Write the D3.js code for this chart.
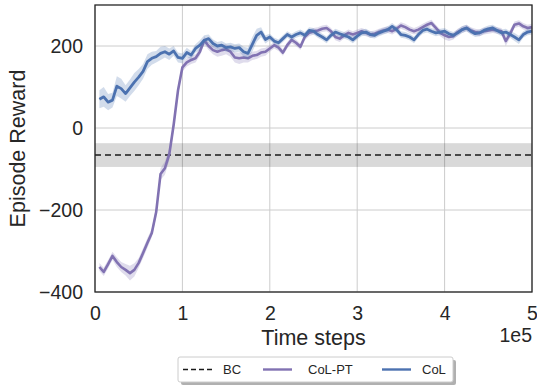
<!DOCTYPE html>
<html>
<head>
<meta charset="utf-8">
<script src="https://cdn.jsdelivr.net/npm/d3@7"></script>
<style>
  body { margin: 0; background: #fff; }
  text { font-family: "Liberation Sans", Arial, sans-serif; fill: #262626; }
</style>
</head>
<body>
<div id="chart"></div>
<script>
// time steps (every 5000)
var steps = [5000, 10000, 15000, 20000, 25000, 30000, 35000, 40000, 45000, 50000,
  55000, 60000, 65000, 70000, 75000, 80000, 85000, 90000, 95000, 100000,
  105000, 110000, 115000, 120000, 125000, 130000, 135000, 140000, 145000, 150000,
  155000, 160000, 165000, 170000, 175000, 180000, 185000, 190000, 195000, 200000,
  205000, 210000, 215000, 220000, 225000, 230000, 235000, 240000, 245000, 250000,
  255000, 260000, 265000, 270000, 275000, 280000, 285000, 290000, 295000, 300000,
  305000, 310000, 315000, 320000, 325000, 330000, 335000, 340000, 345000, 350000,
  355000, 360000, 365000, 370000, 375000, 380000, 385000, 390000, 395000, 400000,
  405000, 410000, 415000, 420000, 425000, 430000, 435000, 440000, 445000, 450000,
  455000, 460000, 465000, 470000, 475000, 480000, 485000, 490000, 495000, 500000];

// CoL
var colMean = [70, 76, 63, 68, 102, 96, 84, 98, 112, 124,
  138, 162, 170, 174, 182, 186, 180, 188, 172, 170,
  184, 178, 194, 202, 214, 218, 206, 200, 202, 196,
  198, 194, 196, 186, 182, 204, 226, 234, 216, 222,
  212, 208, 218, 228, 222, 228, 232, 226, 238, 236,
  228, 222, 215, 226, 234, 230, 226, 222, 215, 224,
  232, 234, 228, 226, 232, 236, 240, 248, 240, 228,
  226, 222, 215, 228, 238, 241, 236, 232, 234, 236,
  230, 226, 232, 240, 244, 236, 230, 232, 238, 242,
  244, 238, 232, 234, 228, 222, 215, 228, 234, 236];
var colSpread = [22, 24, 20, 18, 24, 24, 20, 20, 22, 20,
  18, 18, 16, 14, 16, 14, 14, 12, 12, 12,
  12, 10, 10, 12, 12, 10, 10, 10, 10, 10,
  10, 10, 10, 12, 14, 18, 16, 12, 10, 8,
  8, 8, 8, 8, 8, 8, 8, 8, 8, 8,
  8, 8, 8, 8, 8, 8, 8, 8, 8, 8,
  8, 8, 8, 8, 8, 8, 8, 8, 8, 8,
  8, 8, 8, 8, 8, 8, 8, 8, 8, 8,
  8, 8, 8, 8, 8, 8, 8, 8, 8, 8,
  8, 8, 8, 8, 8, 10, 10, 8, 8, 8];

// CoL-PT
var colptMean = [-339, -351, -332, -312, -327, -339, -346, -354, -346, -329,
  -305, -280, -256, -205, -112, -98, -64, 8, 92, 148,
  160, 166, 170, 186, 214, 200, 190, 186, 190, 192,
  186, 172, 170, 172, 170, 176, 178, 184, 186, 194,
  202, 196, 184, 202, 215, 208, 198, 222, 232, 236,
  238, 242, 244, 236, 222, 218, 226, 232, 228, 232,
  236, 232, 228, 230, 234, 238, 240, 236, 242, 250,
  246, 240, 236, 240, 246, 252, 256, 244, 232, 226,
  222, 224, 234, 240, 244, 238, 234, 232, 236, 238,
  240, 238, 236, 212, 230, 252, 255, 248, 244, 246];
var colptSpread = [10, 10, 10, 10, 12, 12, 14, 18, 16, 12,
  12, 12, 10, 12, 14, 16, 14, 14, 12, 10,
  10, 10, 10, 10, 10, 10, 10, 12, 14, 12,
  12, 12, 14, 12, 10, 10, 10, 10, 10, 8,
  8, 8, 8, 8, 8, 8, 8, 8, 8, 8,
  8, 8, 8, 8, 8, 8, 8, 8, 8, 8,
  8, 8, 8, 8, 8, 8, 8, 8, 8, 8,
  8, 8, 8, 8, 8, 8, 8, 8, 8, 10,
  10, 8, 8, 8, 8, 8, 8, 8, 8, 8,
  8, 8, 8, 12, 10, 8, 8, 8, 8, 8];

// BC baseline (mean and band)
var bcMean = -66;
var bcLow = -95;
var bcHigh = -37;

var xTicks = [0, 100000, 200000, 300000, 400000, 500000];
var yTicks = [-400, -200, 0, 200];

var svgWidth = 537;
var svgHeight = 385;
var margin = { top: 5, right: 5, bottom: 93, left: 95 };
var width = svgWidth - margin.left - margin.right;
var height = svgHeight - margin.top - margin.bottom;

var svg = d3.select("#chart")
  .append("svg")
  .attr("width", svgWidth)
  .attr("height", svgHeight);

var chart = svg.append("g")
  .attr("transform", `translate(${margin.left}, ${margin.top})`);

var x = d3.scaleLinear().domain([0, 500000]).range([0, width]);
var y = d3.scaleLinear().domain([-400, 300]).range([height, 0]);

// grid
chart.append("g")
  .selectAll("line.vg")
  .data(xTicks)
  .enter()
  .append("line")
  .attr("x1", d => x(d)).attr("x2", d => x(d))
  .attr("y1", 0).attr("y2", height)
  .attr("stroke", "#cccccc").attr("stroke-width", 1);
chart.append("g")
  .selectAll("line.hg")
  .data(yTicks)
  .enter()
  .append("line")
  .attr("x1", 0).attr("x2", width)
  .attr("y1", d => y(d)).attr("y2", d => y(d))
  .attr("stroke", "#cccccc").attr("stroke-width", 1);

// BC baseline
chart.append("rect")
  .attr("x", 0)
  .attr("width", width)
  .attr("y", y(bcHigh))
  .attr("height", y(bcLow) - y(bcHigh))
  .attr("fill", "#000")
  .attr("opacity", 0.15);
chart.append("line")
  .attr("x1", 0).attr("x2", width)
  .attr("y1", y(bcMean)).attr("y2", y(bcMean))
  .attr("stroke", "#1a1a1a")
  .attr("stroke-width", 1.6)
  .attr("stroke-dasharray", "6,4");

function drawSeries(mean, spread, color, lw) {
  var data = steps.map((s, i) => ({ t: s, m: mean[i], s: spread[i] }));
  chart.append("path")
    .datum(data)
    .attr("fill", color)
    .attr("opacity", 0.25)
    .attr("d", d3.area()
      .x(d => x(d.t))
      .y0(d => y(d.m - d.s))
      .y1(d => y(d.m + d.s)));
  chart.append("path")
    .datum(data)
    .attr("fill", "none")
    .attr("stroke", color)
    .attr("stroke-width", lw)
    .attr("stroke-linejoin", "round")
    .attr("d", d3.line()
      .x(d => x(d.t))
      .y(d => y(d.m)));
}
drawSeries(colptMean, colptSpread, "#8172b2", 2.6);
drawSeries(colMean, colSpread, "#4c72b0", 2.8);

// frame
chart.append("rect")
  .attr("width", width)
  .attr("height", height)
  .attr("fill", "none")
  .attr("stroke", "#262626")
  .attr("stroke-width", 1.3);

// axes tick labels
var xAxis = d3.axisBottom(x).tickValues(xTicks).tickSize(0).tickPadding(14)
  .tickFormat(d => d / 100000);
var yAxis = d3.axisLeft(y).tickValues(yTicks).tickSize(0).tickPadding(12)
  .tickFormat(d => d < 0 ? "\u2212" + Math.abs(d) : d);
var gx = chart.append("g").attr("transform", `translate(0, ${height})`).call(xAxis);
var gy = chart.append("g").call(yAxis);
[gx, gy].forEach(g => {
  g.select(".domain").remove();
  g.selectAll("text")
    .style("font-size", "19.5px")
    .style("font-family", "'Liberation Sans', Arial, sans-serif")
    .attr("fill", "#262626");
});

chart.append("text")
  .attr("x", width)
  .attr("y", height + 50)
  .attr("text-anchor", "end")
  .style("font-size", "19.5px")
  .text("1e5");

chart.append("text")
  .attr("x", width / 2)
  .attr("y", height + 53)
  .attr("text-anchor", "middle")
  .style("font-size", "21.5px")
  .text("Time steps");

chart.append("text")
  .attr("transform", `translate(${-70}, ${height / 2}) rotate(-90)`)
  .attr("text-anchor", "middle")
  .style("font-size", "21.5px")
  .text("Episode Reward");

// legend
var legend = svg.append("g").attr("transform", "translate(178, 357)");
legend.append("rect")
  .attr("x", 3).attr("y", 3)
  .attr("width", 275).attr("height", 25)
  .attr("rx", 2)
  .attr("fill", "#b0b0b0");
legend.append("rect")
  .attr("width", 275).attr("height", 25)
  .attr("rx", 2)
  .attr("fill", "#fff")
  .attr("stroke", "#cccccc")
  .attr("stroke-width", 1);
var legendItems = [
  { label: "BC", color: "#1a1a1a", dash: "5,3", x0: 5, tx: 45 },
  { label: "CoL-PT", color: "#8172b2", dash: null, x0: 85, tx: 130 },
  { label: "CoL", color: "#4c72b0", dash: null, x0: 204, tx: 244 }
];
legendItems.forEach(it => {
  legend.append("line")
    .attr("x1", it.x0).attr("x2", it.x0 + 29)
    .attr("y1", 12.5).attr("y2", 12.5)
    .attr("stroke", it.color)
    .attr("stroke-width", it.dash ? 1.6 : 2.4)
    .attr("stroke-dasharray", it.dash);
  legend.append("text")
    .attr("x", it.tx)
    .attr("y", 17)
    .style("font-size", "13px")
    .text(it.label);
});
</script>
</body>
</html>
